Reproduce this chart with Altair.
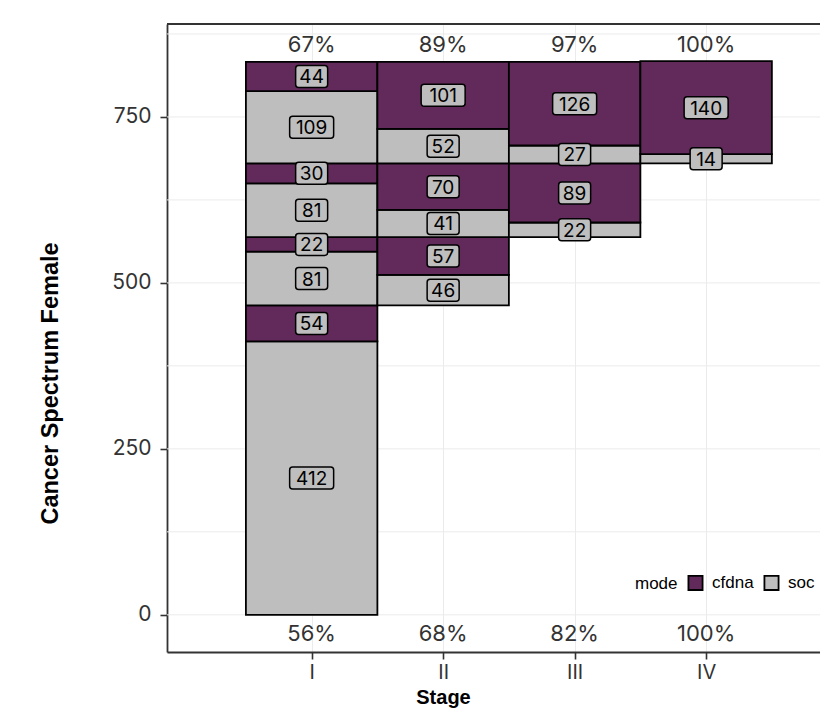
import altair as alt
import pandas as pd

# ---- data ----
stages = ["I", "II", "III", "IV"]
# each column stacks (soc, cfdna) pairs, bottom to top
soc_counts = [[412, 81, 81, 109], [46, 41, 52], [22, 27], [14]]
cfdna_counts = [[54, 22, 30, 44], [57, 70, 101], [89, 126], [140]]
top_pct = ["67%", "89%", "97%", "100%"]
bottom_pct = ["56%", "68%", "82%", "100%"]
top_label_y = 858
bottom_label_y = -29
y_ticks = [0, 250, 500, 750]
y_grid = [0, 125, 250, 375, 500, 625, 750, 875]

PURPLE = "#622A5A"
GREY = "#BEBEBE"
INK = "#333333"
W, H = 653, 628

rows = []
prev_start = 0
for k, stage in enumerate(stages):
    if k == 0:
        start = 0
    else:
        start = prev_start + soc_counts[k - 1][0] + cfdna_counts[k - 1][0]
    prev_start = start
    y = start
    for s, c in zip(soc_counts[k], cfdna_counts[k]):
        for mode, v in (("soc", s), ("cfdna", c)):
            rows.append(dict(stage=stage, pos=k + 1, x0=k + 0.5, x1=k + 1.5,
                             mode=mode, n=v, y0=y, y1=y + v, ymid=y + v / 2,
                             digits=len(str(v))))
            y += v
df = pd.DataFrame(rows)

pct = pd.DataFrame({"pos": [1, 2, 3, 4], "top": top_pct, "bottom": bottom_pct,
                    "ytop": [top_label_y] * 4, "ybot": [bottom_label_y] * 4})
grid_df = pd.DataFrame({"g": y_grid})

xscale = alt.Scale(domain=[-0.1, 4.866], nice=False, zero=False)
yscale = alt.Scale(domain=[-56, 890], nice=False, zero=False)

xaxis = alt.Axis(
    values=[1, 2, 3, 4],
    labelExpr="['', 'I', 'II', 'III', 'IV'][datum.value]",
    title="Stage", grid=True, gridColor="#EBEBEB", gridWidth=1,
    domainColor=INK, domainWidth=1.8, tickColor=INK, tickWidth=1.6, tickSize=7,
    labelFont="Inter", labelFontSize=20, labelColor=INK, labelPadding=3,
    titleFont="Liberation Sans", titleFontSize=20, titleFontWeight="bold",
    titleColor="black", titleX=276, titleY=51, titleAlign="center",
    titleBaseline="alphabetic",
)
yaxis = alt.Axis(
    values=y_ticks, grid=False,
    title="Cancer Spectrum Female",
    domainColor=INK, domainWidth=1.8, tickColor=INK, tickWidth=1.6, tickSize=7,
    labelFont="Inter", labelFontSize=21, labelColor=INK, labelPadding=9,
    titleFont="Liberation Sans", titleFontSize=23.5, titleFontWeight="bold",
    titleColor="black", titleX=-117, titleY=359, titleAngle=270,
    titleAlign="center", titleBaseline="middle",
)

legend = alt.Legend(
    orient="none", legendX=468, legendY=550, direction="horizontal",
    title="mode", titleOrient="left", titleFont="Liberation Sans",
    titleFontSize=17, titleFontWeight="normal", titleColor="black",
    labelFont="Liberation Sans", labelFontSize=17, labelColor="black",
    symbolType="square", symbolSize=200, symbolStrokeColor="black",
    symbolStrokeWidth=1.8, columnPadding=6, labelOffset=8, titlePadding=9,
)

def X(field):
    return alt.X(field, scale=xscale, axis=xaxis)

def Y(field):
    return alt.Y(field, scale=yscale, axis=yaxis)

grid = alt.Chart(grid_df).mark_rule(color="#EBEBEB", strokeWidth=1).encode(
    y=Y("g:Q"),
)

frame_top = alt.Chart(grid_df).mark_rule(color=INK, strokeWidth=1.8).encode(
    y=alt.value(0), x=alt.value(0), x2=alt.value(W),
)

bars = alt.Chart(df).mark_rect(stroke="black", strokeWidth=1.8).encode(
    x=X("x0:Q"),
    x2="x1:Q",
    y=Y("y0:Q"),
    y2="y1:Q",
    color=alt.Color("mode:N", scale=alt.Scale(domain=["cfdna", "soc"],
                                              range=[PURPLE, GREY]),
                    legend=legend),
)

def label_boxes(nd, half_w):
    return alt.Chart(df).transform_filter(f"datum.digits == {nd}").mark_rect(
        xOffset=-half_w, x2Offset=half_w, yOffset=-11, y2Offset=11,
        cornerRadius=3, fill=GREY, stroke="black", strokeWidth=1.5,
    ).encode(
        x=X("pos:Q"),
        x2="pos:Q",
        y=Y("ymid:Q"),
        y2="ymid:Q",
    )

box2 = label_boxes(2, 16)
box3 = label_boxes(3, 22)

box_text = alt.Chart(df).mark_text(font="Inter", fontSize=19, color="black",
                                   baseline="middle", dy=1).encode(
    x=X("pos:Q"),
    y=Y("ymid:Q"),
    text="n:Q",
)

top_text = alt.Chart(pct).mark_text(font="Inter", fontSize=22, color=INK,
                                    baseline="middle").encode(
    x=X("pos:Q"),
    y=Y("ytop:Q"),
    text="top:N",
)

bot_text = alt.Chart(pct).mark_text(font="Inter", fontSize=22, color=INK,
                                    baseline="middle").encode(
    x=X("pos:Q"),
    y=Y("ybot:Q"),
    text="bottom:N",
)

chart = alt.layer(grid, frame_top, bars, box2, box3, box_text, top_text, bot_text).properties(
    width=W, height=H,
    padding={"left": 159, "top": 16, "right": 0, "bottom": 57},
    autosize="none",
).configure_view(stroke=None)

chart.save("out.html", embed_options={"renderer": "svg", "actions": False})
